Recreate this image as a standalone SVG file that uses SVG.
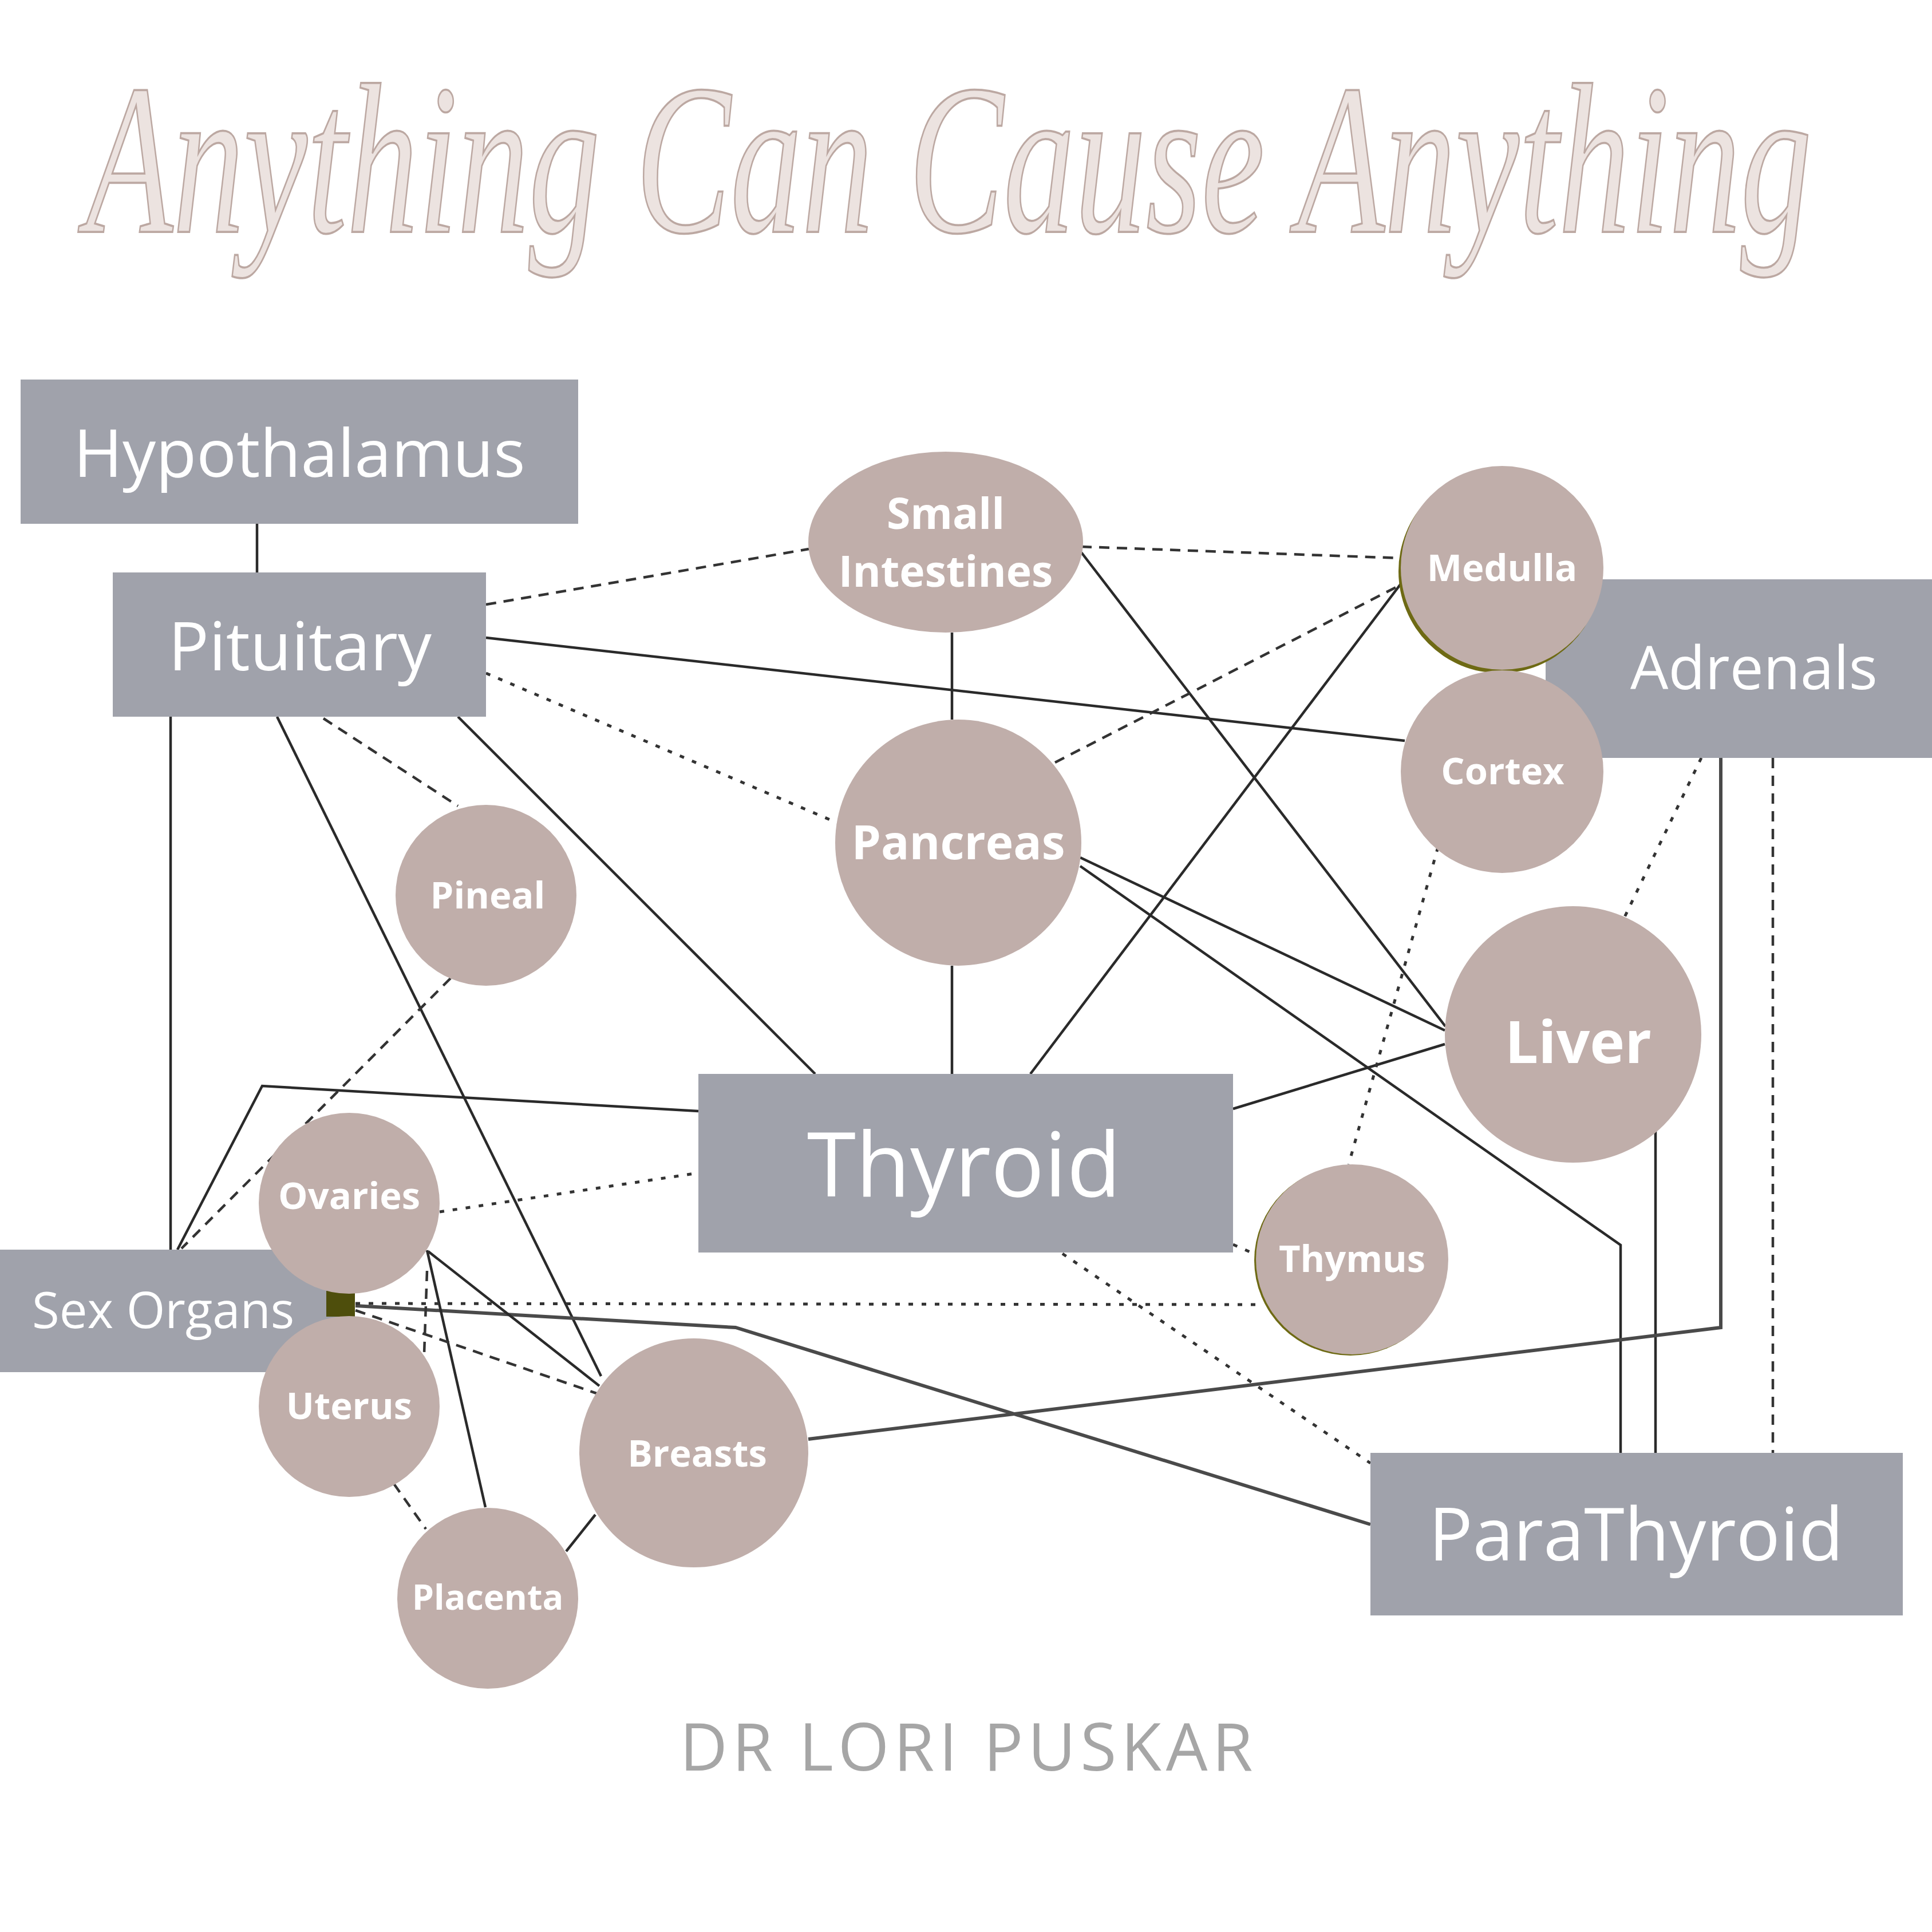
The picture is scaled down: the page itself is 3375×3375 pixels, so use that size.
<svg xmlns="http://www.w3.org/2000/svg" width="3375" height="3375" viewBox="0 0 3375 3375">
<style>
.bg{fill:#ffffff}
.rect{fill:#a0a2ab}
.circ{fill:#c0aeaa}
.rl{font-family:"Open Sans","Liberation Sans",sans-serif;font-weight:400;fill:#ffffff;text-anchor:middle}
.cl{font-family:"Open Sans","Liberation Sans",sans-serif;font-weight:700;fill:#ffffff;text-anchor:middle}
.s{fill:none;stroke:#2a2a2a;stroke-width:4.5;stroke-linejoin:miter}
.sg{fill:none;stroke:#4a4a4a;stroke-width:6}
.d{fill:none;stroke:#333333;stroke-width:4.5;stroke-dasharray:18 13}
.o{fill:none;stroke:#333333;stroke-width:5;stroke-dasharray:8 15}
.title{font-family:"Liberation Serif","DejaVu Serif",serif;font-style:italic;fill:#ece3e0;stroke:#bca8a2;stroke-width:2.5}
.sig{font-family:"Open Sans","Liberation Sans",sans-serif;fill:#a6a6a6;text-anchor:middle;letter-spacing:8px}
</style>
<rect class="bg" x="0" y="0" width="3375" height="3375"/>
<g transform="translate(150,405) scale(1,1.5)">
<text class="title" x="0" y="0" font-size="250" textLength="3015" lengthAdjust="spacingAndGlyphs">Anything Can Cause Anything</text>
</g>

<g id="connectors">
<path class="s" d="M449,915 V1000"/>
<path class="s" d="M849,1114 L2454,1294"/>
<path class="s" d="M298,1252 V2183"/>
<path class="s" d="M484,1252 L1050,2404"/>
<path class="s" d="M800,1252 L1424,1876"/>
<path class="s" d="M1663,1105 V1257"/>
<path class="s" d="M1889,965 L2525,1793"/>
<path class="s" d="M1663,1687 V1876"/>
<path class="s" d="M1800,1876 L2450,1016"/>
<path class="s" d="M1887,1498 L2524,1800"/>
<path class="s" d="M1887,1513 L2831,2175 V2538"/>
<path class="s" d="M2524,1824 L2154,1937"/>
<path class="s" d="M2892,1975 V2538"/>
<path class="sg" d="M3006,1324 V2319 L1412,2514"/>
<path class="s" d="M1220,1941 L458,1897 L310,2183"/>
<path class="sg" d="M621,2281 L1285,2319 L2394,2663"/>
<path class="s" d="M748,2186 L1047,2421"/>
<path class="s" d="M746,2184 L848,2633"/>
<path class="s" d="M989,2710 L1040,2646"/>
<path class="d" d="M849,1056 L1413,959"/>
<path class="o" d="M849,1176 L1464,1438"/>
<path class="d" d="M565,1255 L800,1408"/>
<path class="d" d="M1889,955 L2448,975"/>
<path class="d" d="M1843,1332 L2448,1021"/>
<path class="o" d="M2512,1480 L2356,2034"/>
<path class="o" d="M2972,1324 L2837,1604"/>
<path class="d" d="M3097,1324 V2538"/>
<path class="d" d="M787,1709 L317,2181"/>
<path class="o" d="M768,2117 L1220,2049"/>
<path class="o" d="M1856,2190 L2394,2556"/>
<path class="o" d="M2154,2174 L2195,2192"/>
<path class="o" d="M621,2277 L2208,2279"/>
<path class="d" d="M621,2289 L1042,2434"/>
<path class="d" d="M688,2592 L744,2671"/>
<path class="d" d="M746,2220 L741,2365"/>
</g>

<g id="hypothalamus"><rect class="rect" x="36" y="663" width="974" height="252"/><text class="rl" x="523" y="833" font-size="116">Hypothalamus</text></g>
<g id="pituitary"><rect class="rect" x="197" y="1000" width="652" height="252"/><text class="rl" x="524" y="1171" font-size="118">Pituitary</text></g>
<g id="small-intestines"><ellipse class="circ" cx="1652" cy="947" rx="240" ry="158"/><text class="cl" x="1652" y="924" font-size="75">Small</text><text class="cl" x="1652" y="1025" font-size="75">Intestines</text></g>
<g id="pancreas"><circle class="circ" cx="1674" cy="1472" r="215"/><text class="cl" x="1674" y="1501" font-size="82">Pancreas</text></g>
<g id="pineal"><circle class="circ" cx="849" cy="1564" r="158"/><text class="cl" x="852" y="1587" font-size="65">Pineal</text></g>
<g id="adrenals"><rect class="rect" x="2700" y="1012" width="675" height="312"/><text class="rl" x="3064" y="1204" font-size="105">Adrenals</text></g>
<g id="medulla"><ellipse cx="2620" cy="998" rx="177" ry="178" fill="#6e6a14"/><ellipse class="circ" cx="2624" cy="992" rx="177" ry="178"/><text class="cl" x="2624" y="1015" font-size="65">Medulla</text></g>
<g id="cortex"><circle class="circ" cx="2624" cy="1348" r="177"/><text class="cl" x="2625" y="1370" font-size="65">Cortex</text></g>
<g id="liver"><circle class="circ" cx="2748" cy="1807" r="224"/><text class="cl" x="2757" y="1857" font-size="103">Liver</text></g>
<g id="thyroid"><rect class="rect" x="1220" y="1876" width="934" height="312"/><text class="rl" x="1684" y="2090" font-size="155">Thyroid</text></g>
<g id="thymus"><ellipse cx="2359" cy="2202" rx="168" ry="166" fill="#6e6a14"/><ellipse class="circ" cx="2362" cy="2200" rx="168" ry="166"/><text class="cl" x="2362" y="2222" font-size="65">Thymus</text></g>
<g id="sex-organs"><rect class="rect" x="0" y="2183" width="600" height="214"/><rect x="570" y="2255" width="50" height="45" fill="#4e4e0c"/><text class="rl" x="56" y="2320" font-size="87" style="text-anchor:start">Sex Organs</text></g>
<g id="ovaries"><circle class="circ" cx="610" cy="2102" r="158"/><text class="cl" x="610" y="2112" font-size="65">Ovaries</text></g>
<g id="uterus"><circle class="circ" cx="610" cy="2457" r="158"/><text class="cl" x="610" y="2479" font-size="65">Uterus</text></g>
<g id="breasts"><circle class="circ" cx="1212" cy="2538" r="200"/><text class="cl" x="1218" y="2562" font-size="65">Breasts</text></g>
<g id="placenta"><circle class="circ" cx="852" cy="2792" r="158"/><text class="cl" x="852" y="2812" font-size="61">Placenta</text></g>
<g id="parathyroid"><rect class="rect" x="2394" y="2538" width="930" height="284"/><text class="rl" x="2858" y="2726" font-size="128">ParaThyroid</text></g>

<text class="sig" x="1692" y="3093" font-size="115">DR LORI PUSKAR</text>
</svg>
